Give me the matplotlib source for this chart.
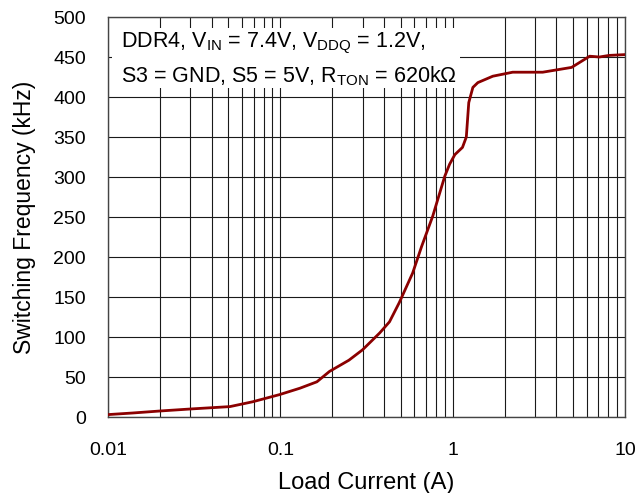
import matplotlib.pyplot as plt
from matplotlib.patches import Rectangle

plt.rcParams["font.family"] = ["Liberation Sans", "DejaVu Sans"]
plt.rcParams["mathtext.fontset"] = "custom"
plt.rcParams["mathtext.rm"] = "Liberation Sans"

# Load current (A) vs switching frequency (kHz)
load_current = [0.01, 0.0139, 0.02, 0.030, 0.051, 0.069, 0.099, 0.13, 0.163, 0.193,
                0.25, 0.30, 0.377, 0.43, 0.49, 0.586, 0.66, 0.766, 0.90, 0.96,
                1.03, 1.14, 1.20, 1.24, 1.31, 1.40, 1.71, 2.23, 3.33, 4.9,
                6.24, 7.1, 8.1, 10.0]
frequency = [3, 5, 7.5, 10, 13, 19, 28, 36, 44, 57,
             71, 84, 105, 119, 143, 180, 213, 251, 301, 316,
             328, 337, 350, 393, 412, 418, 426, 431, 431, 437,
             451, 450, 452, 453]

x_ticks = [0.01, 0.1, 1, 10]
x_tick_labels = ["0.01", "0.1", "1", "10"]
y_ticks = list(range(0, 501, 50))

fig = plt.figure(figsize=(6.39, 4.93), dpi=100)
ax = fig.add_axes([108 / 639, (493 - 417) / 493, 517 / 639, 400 / 493])

ax.plot(load_current, frequency, color="#8b0000", linewidth=2, zorder=4)

ax.set_xscale("log")
ax.set_xlim(0.01, 10)
ax.set_ylim(0, 500)
ax.set_xticks(x_ticks)
ax.set_xticklabels(x_tick_labels)
ax.set_yticks(y_ticks)
ax.tick_params(axis="both", which="both", length=0, labelsize=14)
ax.tick_params(axis="x", pad=18)
ax.tick_params(axis="y", pad=16)
ax.grid(True, which="both", color="#1a1a1a", linewidth=0.8)
ax.set_axisbelow(True)
for s in ax.spines.values():
    s.set_color("#444444")
    s.set_linewidth(1.0)

ax.set_xlabel("Load Current (A)", fontsize=17, labelpad=9)
ax.set_ylabel("Switching Frequency (kHz)", fontsize=16.5, labelpad=12)

# white box behind the annotation
ax.add_patch(Rectangle((0.008, 0.8225), 0.673, 0.15, transform=ax.transAxes,
                       facecolor="white", edgecolor="none", zorder=3))
ax.text(0.025, 0.935,
        r"DDR4, V$_{\mathregular{IN}}$ = 7.4V, V$_{\mathregular{DDQ}}$ = 1.2V,",
        transform=ax.transAxes, fontsize=15.5, va="center", zorder=5)
ax.text(0.025, 0.852,
        r"S3 = GND, S5 = 5V, R$_{\mathregular{TON}}$ = 620k$\Omega$",
        transform=ax.transAxes, fontsize=15.5, va="center", zorder=5)

plt.savefig("out.png", dpi=100)
